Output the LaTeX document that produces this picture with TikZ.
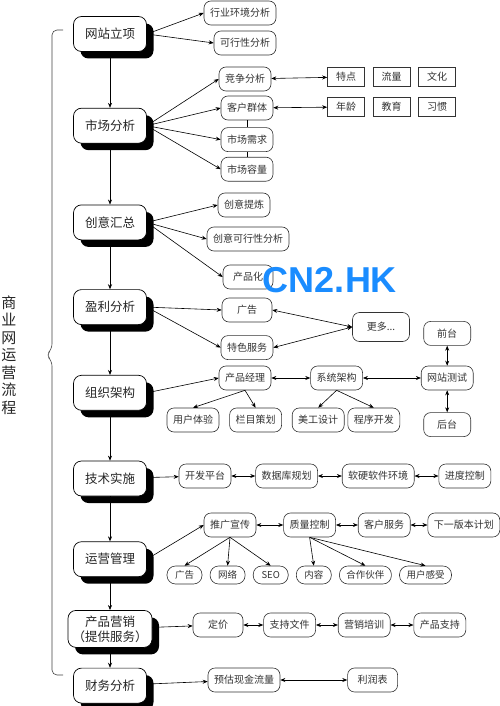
\documentclass[tikz,border=0pt]{standalone}
\usepackage{fontspec}
\setmainfont{Noto Sans CJK SC}
\newfontfamily\wmfont{Liberation Sans}
\usepackage{tikz}
\usetikzlibrary{arrows.meta, positioning, shadows}
\usepackage{xcolor}
\definecolor{wmblue}{HTML}{1A8CFF}

\begin{document}
\begin{tikzpicture}[x=1pt, y=-1pt,
    mainbox/.style={rectangle, rounded corners=8pt, draw=black, fill=white,
                    minimum width=73pt, minimum height=35pt, align=center,
                    font=\fontsize{12.5}{15}\selectfont, text=black!85, line width=0.7pt,
                    general shadow={fill=black, shadow xshift=7pt, shadow yshift=-7pt}},
    subbox/.style={rectangle, rounded corners=7pt, draw=black!80, fill=white,
                   minimum width=50pt, minimum height=24pt, inner xsep=6pt,
                   font=\fontsize{10}{12}\selectfont, text=black!80, line width=0.6pt},
    tagbox/.style={rectangle, draw=black!80, fill=white, minimum width=37pt, minimum height=19pt,
                   font=\fontsize{10}{12}\selectfont, text=black!80, line width=0.6pt},
    pillbox/.style={rectangle, rounded corners=8.5pt, draw=black!80, fill=white,
                    minimum width=35pt, minimum height=18pt, inner xsep=7pt,
                    font=\fontsize{9.5}{11}\selectfont, text=black!80, line width=0.6pt},
    arrow/.style={-{Stealth[length=5pt, width=4pt]}, line width=0.6pt, black},
    biarrow/.style={{Stealth[length=5pt, width=4pt]}-{Stealth[length=5pt, width=4pt]}, line width=0.6pt, black},
    link/.style={line width=0.6pt, black},
    bracestroke/.style={rounded corners=5pt, line width=0.6pt, black!75}
  ]
    \useasboundingbox (0,0) rectangle (500,706);

    % main flow
    \node[mainbox] (web) at (110,34) {网站立项};
    \node[mainbox, below=56pt of web] (market) {市场分析};
    \node[mainbox, below=61pt of market] (idea) {创意汇总};
    \node[mainbox, below=49pt of idea] (profit) {盈利分析};
    \node[mainbox, below=50pt of profit] (org) {组织架构};
    \node[mainbox, below=50pt of org] (tech) {技术实施};
    \node[mainbox, below=45pt of tech] (oper) {运营管理};
    \node[mainbox, below=33pt of oper, minimum width=84pt, minimum height=37pt] (sale) {产品营销\\（提供服务）};
    \node[mainbox, below=20pt of sale] (fin) {财务分析};

    % title and brace
    \node[font=\fontsize{15}{17.5}\selectfont, align=center, inner sep=0pt, text=black!85] (title) at (9,355) {商\\业\\网\\运\\营\\流\\程};
    \coordinate (btop) at (63,30);
    \coordinate (btip) at (46,355);
    \coordinate (bbot) at (63,675);
    \draw[bracestroke] (btop) -- (52,30) -- (52,349) -- (btip) -- (52,361) -- (52,675) -- (bbot);

    % 网站立项
    \node[subbox] (indus) at (240,13) {行业环境分析};
    \node[subbox] (feas) at (245,43) {可行性分析};

    % 市场分析
    \node[subbox] (comp) at (245,79) {竞争分析};
    \node[subbox] (cust) at (247,108) {客户群体};
    \node[subbox, below=7pt of cust] (need) {市场需求};
    \node[subbox, below=5pt of need] (size) {市场容量};
    \node[tagbox] (trait) at (346,77) {特点};
    \node[tagbox, right=8pt of trait] (flow) {流量};
    \node[tagbox, right=8pt of flow] (cult) {文化};
    \node[tagbox] (age) at (346,107) {年龄};
    \node[tagbox, right=8pt of age] (edu) {教育};
    \node[tagbox, right=8pt of edu] (habit) {习惯};

    % 创意汇总
    \node[subbox] (refine) at (244,205) {创意提炼};
    \node[subbox] (ifeas) at (248,239) {创意可行性分析};
    \node[subbox] (prod) at (248,277) {产品化};

    % 盈利分析
    \node[subbox] (ad) at (247,310) {广告};
    \node[subbox, below=13pt of ad] (special) {特色服务};
    \node[subbox, minimum width=57pt, minimum height=29pt] (more) at (381,327) {更多...};

    % 组织架构
    \node[subbox] (pm) at (245,378) {产品经理};
    \node[subbox, right=39pt of pm] (arch) {系统架构};
    \node[subbox, right=58pt of arch] (test) {网站测试};
    \node[subbox, minimum width=47pt, above=20pt of test] (front) {前台};
    \node[subbox, minimum width=47pt, below=22pt of test] (back) {后台};
    \node[subbox] (ux) at (193,420) {用户体验};
    \node[subbox, right=10pt of ux] (column) {栏目策划};
    \node[subbox, right=10pt of column] (art) {美工设计};
    \node[subbox, right=3pt of art] (dev) {程序开发};

    % 技术实施
    \node[subbox] (platform) at (205,476) {开发平台};
    \node[subbox, right=24pt of platform] (db) {数据库规划};
    \node[subbox, right=24pt of db] (env) {软硬软件环境};
    \node[subbox, right=24pt of env] (sched) {进度控制};

    % 运营管理
    \node[subbox] (promo) at (230,525) {推广宣传};
    \node[subbox, right=27pt of promo] (qc) {质量控制};
    \node[subbox, right=22pt of qc] (service) {客户服务};
    \node[subbox, right=17pt of service] (next) {下一版本计划};
    \node[pillbox] (padv) at (184.5,575) {广告};
    \node[pillbox, right=7.5pt of padv] (net) {网络};
    \node[pillbox, right=7.5pt of net] (seo) {SEO};
    \node[pillbox, right=7.5pt of seo] (content) {内容};
    \node[pillbox, right=7.5pt of content] (partner) {合作伙伴};
    \node[pillbox, right=7.5pt of partner] (feel) {用户感受};

    % 产品营销
    \node[subbox] (price) at (218,625) {定价};
    \node[subbox, right=20pt of price] (docs) {支持文件};
    \node[subbox, right=22pt of docs] (train) {营销培训};
    \node[subbox, right=23pt of train] (support) {产品支持};

    % 财务分析
    \node[subbox] (cash) at (244,680) {预估现金流量};
    \node[subbox, right=67pt of cash] (pl) {利润表};

    % watermark
    \node[font={\wmfont\bfseries\fontsize{36}{36}\selectfont}, text=wmblue, inner sep=0pt] (mark) at (330,280) {CN2.HK};

    % connectors
    \draw[arrow] (web) -- (market);
    \draw[arrow] (market) -- (idea);
    \draw[arrow] (idea) -- (profit);
    \draw[arrow] (profit) -- (org);
    \draw[arrow] (org) -- (tech);
    \draw[arrow] (tech) -- (oper);
    \draw[arrow] (oper) -- (sale);
    \draw[arrow] (sale) -- (fin);

    \draw[arrow] (web.east) -- (indus.west);
    \draw[arrow] (web.east) -- (feas.west);

    \draw[arrow] (market.east) -- (comp.west);
    \draw[arrow] (market.east) -- (cust.west);
    \draw[arrow] (market.east) -- (need.west);
    \draw[arrow] (market.east) -- (size.west);
    \draw[link] (cust) -- (need);
    \draw[link] (need) -- (size);
    \draw[biarrow] (comp) -- (trait);
    \draw[biarrow] (cust) -- (age);

    \draw[arrow] (idea.east) -- (refine.west);
    \draw[arrow] (idea.east) -- (ifeas.west);
    \draw[arrow] (idea.east) -- (prod.west);

    \draw[arrow] (profit.east) -- (ad.west);
    \draw[arrow] (profit.east) -- (special.west);
    \draw[biarrow] (ad.east) -- (more.west);
    \draw[biarrow] (special.east) -- (more.west);

    \draw[arrow] (org.east) -- (pm.west);
    \draw[biarrow] (pm) -- (arch);
    \draw[biarrow] (arch) -- (test);
    \draw[biarrow] (front) -- (test);
    \draw[biarrow] (test) -- (back);
    \draw[arrow] (pm.south) -- (ux.north);
    \draw[arrow] (pm.south) -- (column.north);
    \draw[arrow] (arch.south) -- (art.north);
    \draw[arrow] (arch.south) -- (dev.north);

    \draw[arrow] (tech) -- (platform);
    \draw[biarrow] (platform) -- (db);
    \draw[biarrow] (db) -- (env);
    \draw[biarrow] (env) -- (sched);

    \draw[arrow] (oper.east) -- (promo.west);
    \draw[biarrow] (promo) -- (qc);
    \draw[biarrow] (qc) -- (service);
    \draw[biarrow] (service) -- (next);
    \draw[arrow] (promo.south) -- (padv.north);
    \draw[arrow] (promo.south) -- (net.north);
    \draw[arrow] (promo.south) -- (seo.north);
    \draw[arrow] (qc.south) -- (content.north);
    \draw[arrow] (qc.south) -- (partner.north);
    \draw[arrow] (qc.south) -- (feel.north);

    \draw[arrow] (sale) -- (price);
    \draw[biarrow] (price) -- (docs);
    \draw[biarrow] (docs) -- (train);
    \draw[biarrow] (train) -- (support);

    \draw[arrow] (fin) -- (cash);
    \draw[biarrow] (cash) -- (pl);
\end{tikzpicture}
\end{document}
